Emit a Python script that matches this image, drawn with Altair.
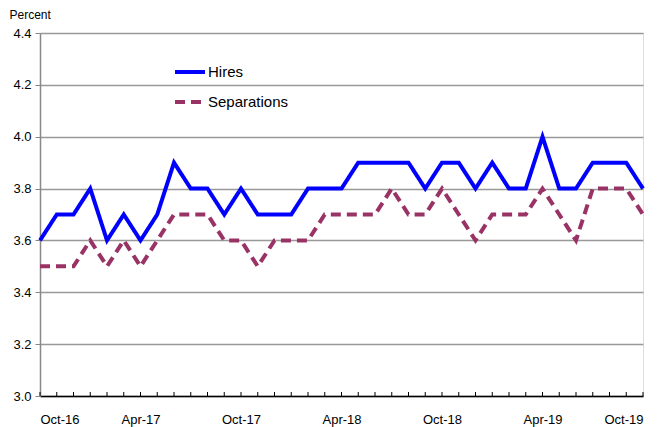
import json
import altair as alt
import pandas as pd

months = ["Oct-16", "Nov-16", "Dec-16", "Jan-17", "Feb-17", "Mar-17", "Apr-17", "May-17",
          "Jun-17", "Jul-17", "Aug-17", "Sep-17", "Oct-17", "Nov-17", "Dec-17", "Jan-18",
          "Feb-18", "Mar-18", "Apr-18", "May-18", "Jun-18", "Jul-18", "Aug-18", "Sep-18",
          "Oct-18", "Nov-18", "Dec-18", "Jan-19", "Feb-19", "Mar-19", "Apr-19", "May-19",
          "Jun-19", "Jul-19", "Aug-19", "Sep-19", "Oct-19"]
hires = [3.6, 3.7, 3.7, 3.8, 3.6, 3.7, 3.6, 3.7, 3.9, 3.8, 3.8, 3.7, 3.8, 3.7, 3.7, 3.7,
         3.8, 3.8, 3.8, 3.9, 3.9, 3.9, 3.9, 3.8, 3.9, 3.9, 3.8, 3.9, 3.8, 3.8, 4.0, 3.8,
         3.8, 3.9, 3.9, 3.9, 3.8]
separations = [3.5, 3.5, 3.5, 3.6, 3.5, 3.6, 3.5, 3.6, 3.7, 3.7, 3.7, 3.6, 3.6, 3.5, 3.6, 3.6,
               3.6, 3.7, 3.7, 3.7, 3.7, 3.8, 3.7, 3.7, 3.8, 3.7, 3.6, 3.7, 3.7, 3.7, 3.8, 3.7,
               3.6, 3.8, 3.8, 3.8, 3.7]
series_names = ["Hires", "Separations"]
series_colors = ["#0000FF", "#993366"]
y_ticks = [3.0, 3.2, 3.4, 3.6, 3.8, 4.0, 4.2, 4.4]

rows = []
for i, m in enumerate(months):
    rows.append({"idx": i, "month": m, "series": "Hires", "value": hires[i]})
for i, m in enumerate(months):
    rows.append({"idx": i, "month": m, "series": "Separations", "value": separations[i]})
df = pd.DataFrame(rows)
ticks_df = pd.DataFrame({"idx": list(range(len(months))), "base": [y_ticks[0]] * len(months)})

W, H = 603, 363
label_expr = json.dumps(months) + "[datum.value]"

x_scale = alt.Scale(domain=[0, len(months) - 1], nice=False, zero=False)
y_scale = alt.Scale(domain=[3.0, 4.4], nice=False, zero=False)

lines = alt.Chart(df).mark_line(strokeWidth=4, strokeJoin="miter").encode(
    x=alt.X("idx:Q", scale=x_scale,
            axis=alt.Axis(values=list(range(0, len(months), 6)), labelExpr=label_expr,
                          title=None, grid=False, ticks=False, labelPadding=17,
                          labelFontSize=13, labelColor="#000000", domainColor="#000000",
                          domainWidth=1.5, labelFont="Liberation Sans")),
    y=alt.Y("value:Q", scale=y_scale,
            axis=alt.Axis(values=y_ticks, format=".1f", title="Percent", titleAngle=0,
                          titleX=-31, titleY=-12, titleAlign="left", titleBaseline="bottom",
                          titleFontSize=12, titleFontWeight="normal", titleColor="#000000",
                          labelFontSize=13, labelColor="#000000", labelPadding=4,
                          tickSize=5, tickColor="#888888", domainColor="#888888",
                          domainWidth=1.5, gridColor="#999999", gridWidth=1.5,
                          labelFont="Liberation Sans", titleFont="Liberation Sans")),
    color=alt.Color("series:N", scale=alt.Scale(domain=series_names, range=series_colors),
                    legend=alt.Legend(title=None, orient="none", legendX=133, legendY=22,
                                      symbolType="stroke", symbolSize=900,
                                      symbolStrokeWidth=4, labelFontSize=15,
                                      labelColor="#000000", labelFont="Liberation Sans",
                                      rowPadding=5, labelOffset=1)),
    strokeDash=alt.StrokeDash("series:N",
                              scale=alt.Scale(domain=series_names, range=[[1, 0], [10, 6]]),
                              legend=None),
    order="idx:Q",
)

inner_ticks = alt.Chart(ticks_df).mark_tick(
    color="#000000", orient="vertical", size=4, thickness=1, yOffset=-2, opacity=1
).encode(
    x=alt.X("idx:Q", scale=x_scale),
    y=alt.Y("base:Q", scale=y_scale),
)

chart = alt.layer(inner_ticks, lines).properties(
    width=W, height=H,
    autosize=alt.AutoSizeParams(type="none"),
    padding={"left": 32, "top": 25, "right": 17, "bottom": 31},
).configure_view(stroke="#000000", strokeWidth=1.5).configure(background="#ffffff")

chart.save("out.html", embed_options={"renderer": "svg", "actions": False})
